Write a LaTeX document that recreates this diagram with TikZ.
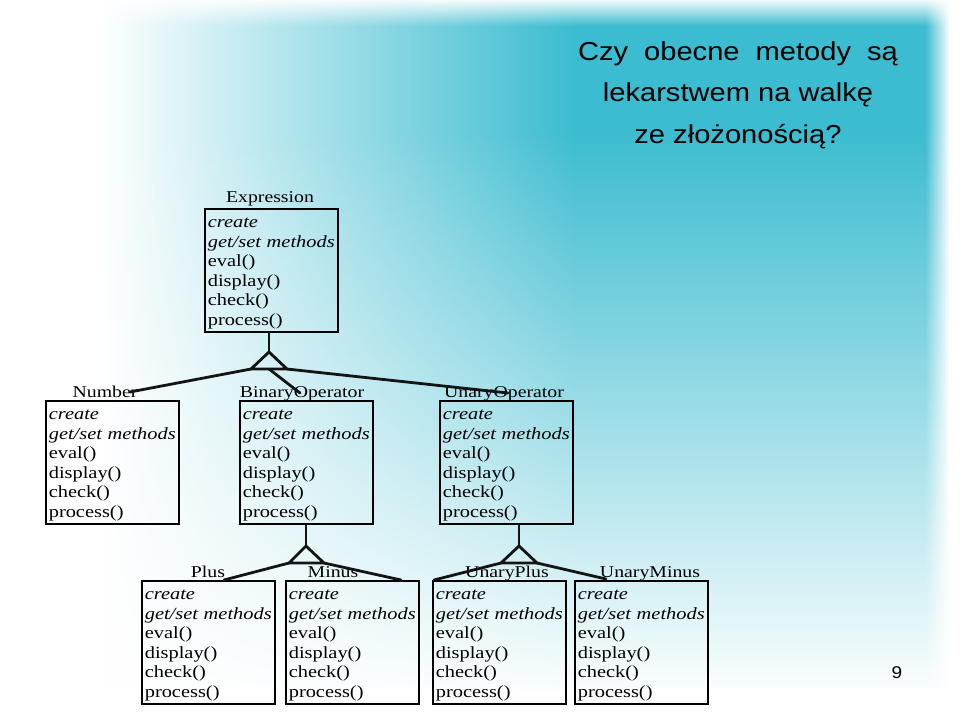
\documentclass[tikz,border=0pt]{standalone}
\usepackage{fontspec}
\setmainfont[FakeStretch=1.2]{Liberation Serif}
\newfontfamily\titlefont[FakeStretch=1.12]{Liberation Sans}
\usetikzlibrary{fadings,calc}
\definecolor{cy}{RGB}{60,188,208}
\newcommand\mlist{\rule{0pt}{16pt}\textit{create}\\\mbox{\textit{get/set methods}}\\eval()\\display()\\check()\\process()}
\tikzset{
  cls/.style={draw=black, line width=1.6pt, anchor=north west, minimum width=133pt,
    minimum height=123pt, text width=127pt, inner xsep=3pt, inner ysep=2pt, align=left,
    font=\fontsize{17}{19.6}\selectfont},
  lbl/.style={font=\fontsize{16.5}{18}\selectfont, inner sep=0pt, anchor=base},
  conn/.style={line width=2.8pt, draw=black!92, line cap=round, line join=round},
  gen/.style={line width=2.8pt, draw=black!92, line join=miter},
}
\begin{document}
\begin{tikzpicture}[x=1pt,y=-1pt]
\useasboundingbox (0,0) rectangle (960,720);
% background
\fill[white] (0,0) rectangle (960,720);
\fill[left color=white, right color=cy] (100,0) rectangle (575,688);
\fill[cy] (575,0) rectangle (960,688);
\fill[white, path fading=north] (0,130) rectangle (960,700);
\fill[white, path fading=south] (0,-2) rectangle (960,26);
\fill[white, path fading=west] (925,0) rectangle (950,720);
\fill[white] (949,0) rectangle (962,720);
% title
\node[font=\titlefont\fontsize{26}{41.5}\selectfont, align=center, anchor=base] (title) at (738,143)
  {{\spaceskip=16pt Czy obecne metody są}\\lekarstwem na walkę\\ze złożonością?};
\node[font=\titlefont\fontsize{17}{20}\selectfont, anchor=base] (pagenum) at (897,678) {9};
% classes
\node[cls] (expr) at (204,208) {\mlist};
\node[cls] (num) at (45,400) {\mlist};
\node[cls] (bin) at (239,400) {\mlist};
\node[cls] (un) at (439,400) {\mlist};
\node[cls] (plus) at (141,580) {\mlist};
\node[cls] (minus) at (285,580) {\mlist};
\node[cls] (uplus) at (432,580) {\mlist};
\node[cls] (uminus) at (574,580) {\mlist};
% labels
\node[lbl] (lexpr) at (270,202) {Expression};
\node[lbl] (lnum) at (105,397) {Number};
\node[lbl] (lbin) at (302,397) {BinaryOperator};
\node[lbl] (lun) at (504,397) {UnaryOperator};
\node[lbl] (lplus) at (208,577) {Plus};
\node[lbl] (lminus) at (333,577) {Minus};
\node[lbl] (luplus) at (507,577) {UnaryPlus};
\node[lbl] (luminus) at (650,577) {UnaryMinus};
% generalisation triangles
\coordinate (ta) at (269,352); \coordinate (tl) at (251,369); \coordinate (tr) at (287,369); \coordinate (tm) at (269,369);
\coordinate (ba) at (306,546); \coordinate (bl) at (289,563); \coordinate (br) at (324,563);
\coordinate (ua) at (519,546); \coordinate (ul) at (501,563); \coordinate (ur) at (537,563);
\draw[gen] (expr.south -| ta) -- (ta);
\draw[gen] (ta) -- (tl) -- (tr) -- cycle;
\draw[gen] (bin.south -| ba) -- (ba);
\draw[gen] (ba) -- (bl) -- (br) -- cycle;
\draw[gen] (un.south -| ua) -- (ua);
\draw[gen] (ua) -- (ul) -- (ur) -- cycle;
% connector ends
\coordinate (cnum) at (130,392);
\coordinate (cbin) at (300,393);
\coordinate (cun) at (508,393);
\coordinate (cplus) at (224,580);
\coordinate (cminus) at (401,580);
\coordinate (cuplus) at (434,580);
\coordinate (cuminus) at (606,579);
\draw[conn] (tl) -- (cnum);
\draw[conn] (tm) -- (cbin);
\draw[conn] (tr) -- (cun);
\draw[conn] (bl) -- (cplus);
\draw[conn] (br) -- (cminus);
\draw[conn] (ul) -- (cuplus);
\draw[conn] (ur) -- (cuminus);
\end{tikzpicture}
\end{document}
